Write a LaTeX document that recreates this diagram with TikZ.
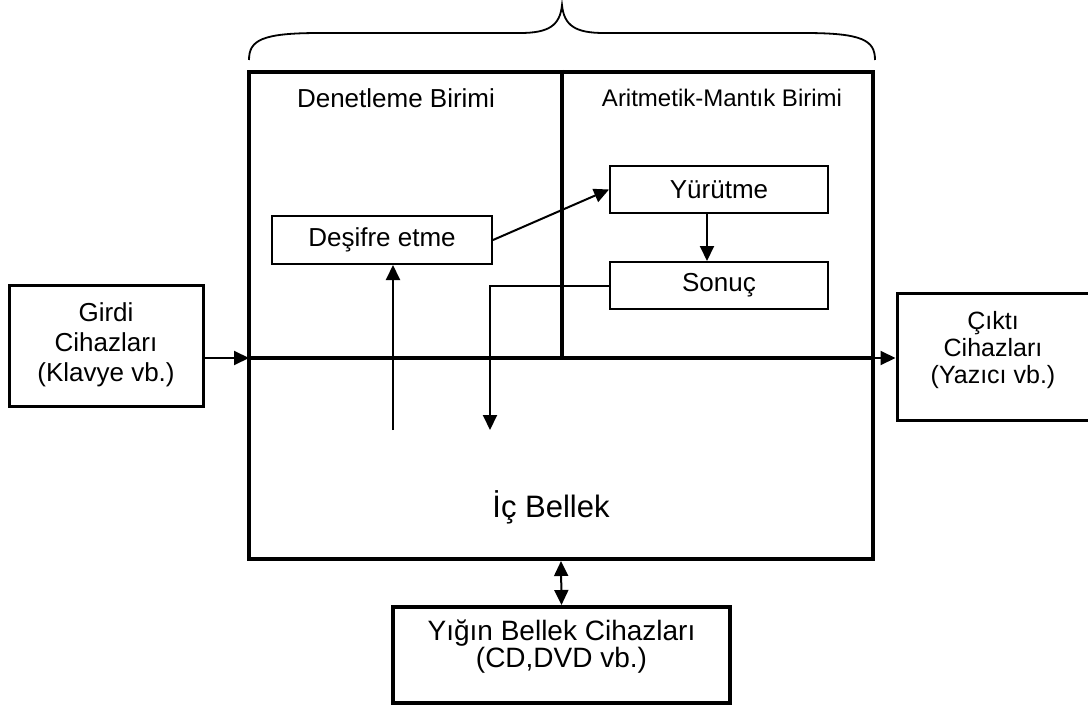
\documentclass[tikz,border=0pt]{standalone}
\usepackage{fontspec}
\setmainfont{Liberation Sans}
\usetikzlibrary{arrows.meta}
\tikzset{headtip/.tip={Triangle[length=15pt,width=14pt]}}
\begin{document}
\begin{tikzpicture}[x=1pt,y=-1pt,
  txt/.style={font=\fontsize{#1}{30}\selectfont, align=center},
  txt/.default=26,
  unitbox/.style={draw, line width=2pt, minimum width=218pt, minimum height=47pt, inner sep=0pt,
    font=\fontsize{26}{30}\selectfont},
  iobox/.style={draw, line width=3pt, inner sep=0pt},
  arr/.style={line width=2pt, -headtip},
  heavy/.style={line width=4pt}]
  \useasboundingbox (0,0) rectangle (1088,706);

  % processor block with its two units
  \node[draw, heavy, minimum width=624pt, minimum height=487pt, inner sep=0pt] (cpu) at (561,315.5) {};
  \coordinate (busL) at (249,358);
  \coordinate (busR) at (873,358);
  \draw[heavy] (busL) -- (busR);
  \draw[heavy] (cpu.north -| 562,0) -- (562,358);

  % brace over the processor
  \draw[line width=1.8pt]
    (249,60) .. controls (249,40) and (262,33) .. (320,33) -- (520,33)
    .. controls (548,33) and (560,26) .. (562,5)
    .. controls (564,26) and (576,33) .. (604,33) -- (804,33)
    .. controls (862,33) and (875,40) .. (875,60);

  \node[txt] (ctl) at (396,98) {Denetleme Birimi};
  \node[txt=24] (alu) at (722,98) {Aritmetik-Mantık Birimi};

  \node[unitbox, minimum width=220pt, minimum height=48pt] (desifre) at (382,240) {Deşifre etme};
  \node[unitbox] (yurutme) at (719,189.5) {Yürütme};
  \node[unitbox] (sonuc) at (719,285.5) {Sonuç};

  \node[txt=31] (mem) at (551,507) {İç Bellek};

  % peripheral devices
  \node[iobox, minimum width=194pt, minimum height=121pt] (girdi) at (106,345.5) {};
  \node[txt] (girditxt) at (106,345) {Girdi\\Cihazları\\(Klavye vb.)};
  \node[iobox, minimum width=198pt, minimum height=127pt] (cikti) at (996,356.5) {};
  \node[font=\fontsize{25}{27}\selectfont, align=center] (ciktitxt) at (993,350) {Çıktı\\Cihazları\\(Yazıcı vb.)};
  \node[iobox, line width=4pt, minimum width=337pt, minimum height=96pt] (yigin) at (561.5,655) {};
  \node[font=\fontsize{28}{26}\selectfont, align=center] (yigintxt) at (561.5,647)
    {Yığın Bellek Cihazları\\(CD,DVD vb.)};

  % data flow
  \coordinate (drop) at (490,430);
  \coordinate (rise) at (393,430);
  \draw[arr] (girdi.east |- busL) -- (busL);
  \draw[arr] (busR) -- (cikti.west |- busR);
  \draw[arr] (desifre.east) -- (yurutme.west);
  \draw[arr] ([xshift=-12pt]yurutme.south) -- ([xshift=-12pt]sonuc.north);
  \draw[arr] (sonuc.west) -| (drop);
  \draw[arr] (rise) -- (rise |- desifre.south);
  \draw[line width=2pt, headtip-headtip] (cpu.south) -- (yigin.north);
\end{tikzpicture}
\end{document}
